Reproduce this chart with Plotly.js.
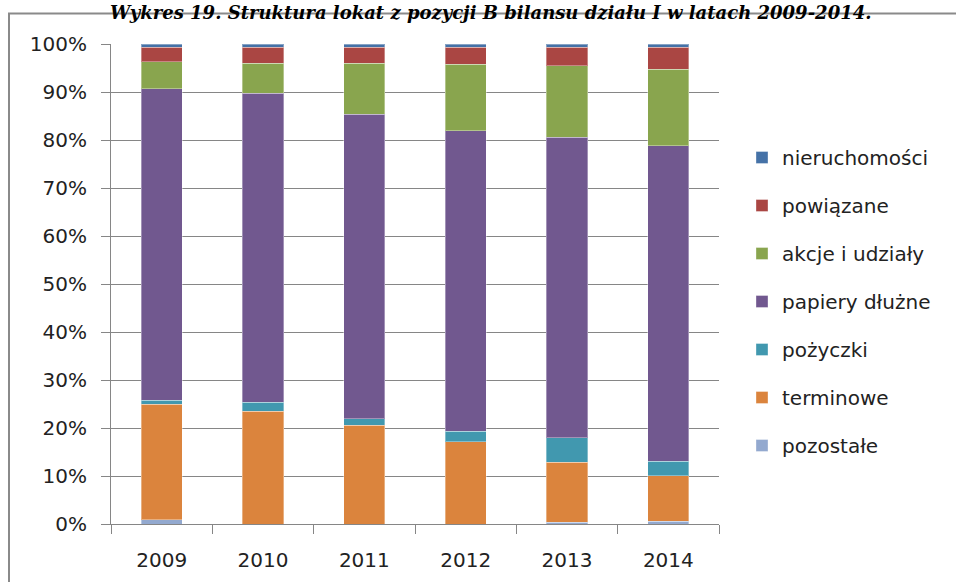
<!DOCTYPE html>
<html>
<head>
<meta charset="utf-8">
<script src="https://cdn.plot.ly/plotly-3.0.1.min.js"></script>
<style>
html,body{margin:0;padding:0;background:#fff;}
#chart{width:956px;height:582px;}
</style>
</head>
<body>
<div id="chart"></div>
<script>
var years = ['2009', '2010', '2011', '2012', '2013', '2014'];
var pozostale = [0.9, 0, 0, 0, 0.35, 0.55];
var terminowe = [24.0, 23.5, 20.6, 17.1, 12.55, 9.55];
var pozyczki = [0.9, 1.9, 1.3, 2.2, 5.1, 3.0];
var papieryDluzne = [64.9, 64.3, 63.5, 62.6, 62.6, 65.7];
var akcjeIUdzialy = [5.6, 6.3, 10.6, 13.9, 14.9, 15.9];
var powiazane = [3.0, 3.3, 3.3, 3.5, 3.8, 4.6];
var nieruchomosci = [0.7, 0.7, 0.7, 0.7, 0.7, 0.7];
var yTicks = [0, 10, 20, 30, 40, 50, 60, 70, 80, 90, 100];
var yTickLabels = ['0%', '10%', '20%', '30%', '40%', '50%', '60%', '70%', '80%', '90%', '100%'];

var series = [
  {name: 'pozostałe', values: pozostale, color: '#93A9CF'},
  {name: 'terminowe', values: terminowe, color: '#DB843D'},
  {name: 'pożyczki', values: pozyczki, color: '#4198AF'},
  {name: 'papiery dłużne', values: papieryDluzne, color: '#71588F'},
  {name: 'akcje i udziały', values: akcjeIUdzialy, color: '#89A54E'},
  {name: 'powiązane', values: powiazane, color: '#AA4643'},
  {name: 'nieruchomości', values: nieruchomosci, color: '#4572A7'}
];

var traces = series.map(function (s, i) {
  return {
    type: 'bar',
    x: years,
    y: s.values,
    name: s.name,
    legendgroup: 'g' + i,
    legendrank: 1000 - i,
    marker: {color: s.color, line: {color: 'rgba(255,255,255,0.35)', width: 1}},
    hoverinfo: 'x+y+name'
  };
});

var W = 956, H = 582;
var mL = 111, mR = W - 719, mT = 44, mB = H - 524;
var pw = W - mL - mR, ph = H - mT - mB;
function px(x) { return (x - mL) / pw; }
function py(y) { return (H - mB - y) / ph; }

var layout = {
  width: W, height: H,
  margin: {l: mL, r: mR, t: mT, b: mB, pad: 0},
  paper_bgcolor: '#fff', plot_bgcolor: '#fff',
  barmode: 'stack',
  bargap: 0.595,
  font: {family: 'DejaVu Sans', size: 20, color: '#222'},
  showlegend: true,
  legend: {
    x: px(742), y: py(138), xanchor: 'left', yanchor: 'top',
    traceorder: 'grouped', tracegroupgap: 19,
    font: {family: 'DejaVu Sans', size: 20, color: '#222'},
    bgcolor: 'rgba(0,0,0,0)'
  },
  xaxis: {
    type: 'category',
    showgrid: false,
    showline: true, linecolor: '#868686', linewidth: 1,
    ticks: 'outside', tickson: 'boundaries', ticklen: 9, tickcolor: '#868686', tickwidth: 1,
    ticklabelstandoff: 18,
    tickfont: {family: 'DejaVu Sans', size: 20, color: '#222'},
    fixedrange: true
  },
  yaxis: {
    range: [0, 100],
    tickmode: 'array', tickvals: yTicks, ticktext: yTickLabels,
    showgrid: true, gridcolor: '#868686', gridwidth: 1,
    showline: true, linecolor: '#868686', linewidth: 1,
    ticks: 'outside', ticklen: 9, tickcolor: '#868686', tickwidth: 1,
    ticklabelstandoff: 10,
    zeroline: false,
    tickfont: {family: 'DejaVu Sans', size: 20, color: '#222'},
    fixedrange: true
  },
  shapes: [{
    type: 'rect', xref: 'paper', yref: 'paper',
    x0: px(9), x1: px(990), y0: py(640), y1: py(13.5),
    line: {color: '#8a8a8a', width: 2}, fillcolor: 'rgba(0,0,0,0)', layer: 'below'
  }],
  annotations: [{
    text: '<b><i>Wykres 19. Struktura lokat z pozycji B bilansu działu I w latach 2009-2014.</i></b>',
    xref: 'paper', yref: 'paper', x: px(490), y: 1, xanchor: 'center', yanchor: 'top',
    yshift: 44, showarrow: false,
    font: {family: 'DejaVu Serif', size: 18, color: '#000'}
  }]
};

Plotly.newPlot('chart', traces, layout, {displayModeBar: false, staticPlot: true});
</script>
</body>
</html>
